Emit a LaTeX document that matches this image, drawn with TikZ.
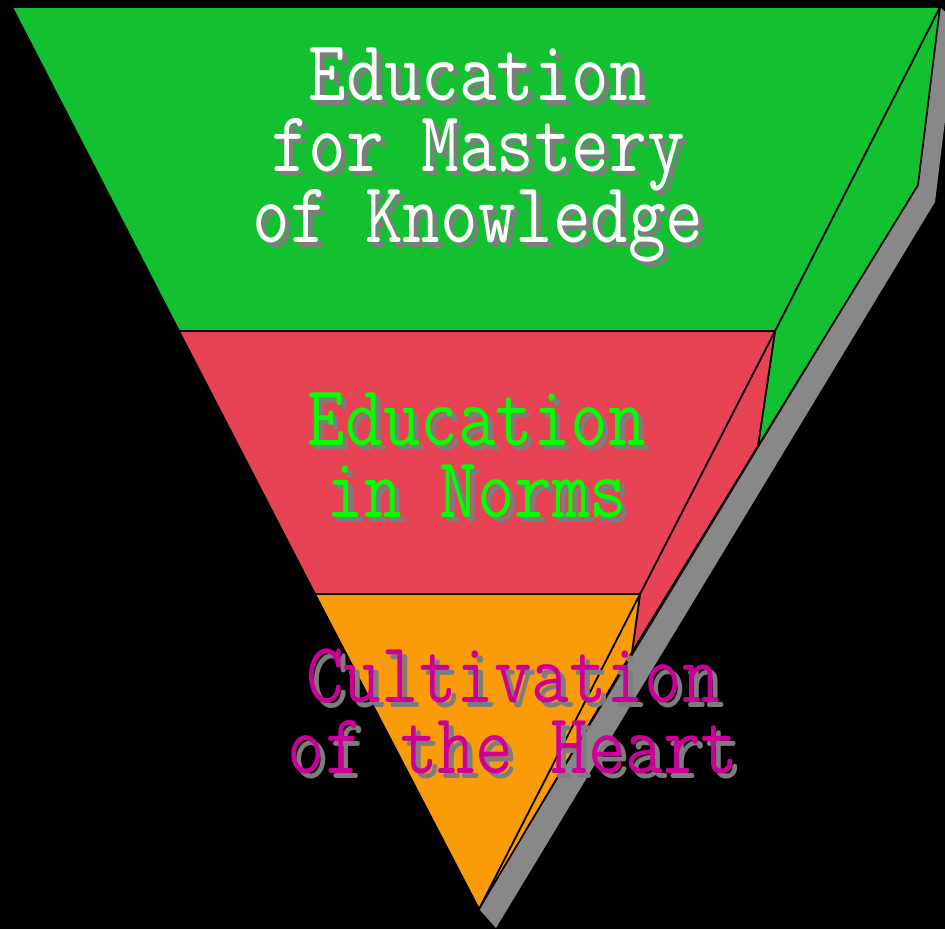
\documentclass[tikz,border=0pt]{standalone}
\usepackage{fontspec}
\definecolor{layergreen}{RGB}{18,192,48}
\definecolor{layerred}{RGB}{232,67,85}
\definecolor{layerorange}{RGB}{250,155,10}
\definecolor{edgeshade}{RGB}{136,136,136}
\definecolor{textshade}{RGB}{125,125,125}
\definecolor{normgreen}{RGB}{0,255,0}
\definecolor{heartpink}{RGB}{204,0,153}
\tikzset{
	face/.style={draw=black,line width=1.7pt,line join=round},
	words/.style={font=\fontsize{73}{73}\selectfont\ttfamily,yscale=1.18,anchor=base,inner sep=0pt},
}
\begin{document}
\begin{tikzpicture}[x=1pt,y=-1pt]
	\fill[black] (0,0) rectangle (945,929);
	\useasboundingbox (0,0) rectangle (945,929);
	\clip (0,0) rectangle (945,929);

	% corners of the front face and the side face
	\coordinate (top-left) at (12,7);
	\coordinate (top-right) at (940,7);
	\coordinate (tip) at (479,909);
	\coordinate (gr-left) at (179,331);
	\coordinate (gr-right) at (775,331);
	\coordinate (ro-left) at (315,594);
	\coordinate (ro-right) at (640,594);
	\coordinate (back-bend) at (918,185);
	\coordinate (back-gr) at (758,446);
	\coordinate (back-ro) at (632,652);

	% shadow behind the side
	\fill[edgeshade] (top-right) -- (957,23) -- (935,202) -- (496,928) -- (tip) -- (back-bend) -- cycle;

	% side face
	\draw[face,fill=layergreen] (top-right) -- (back-bend) -- (back-gr) -- (gr-right) -- cycle;
	\draw[face,fill=layerred] (gr-right) -- (back-gr) -- (back-ro) -- (ro-right) -- cycle;
	\draw[face,fill=layerorange] (ro-right) -- (back-ro) -- (tip) -- cycle;

	% front face
	\draw[face,fill=layergreen] (top-left) -- (top-right) -- (gr-right) -- (gr-left) -- cycle;
	\draw[face,fill=layerred] (gr-left) -- (gr-right) -- (ro-right) -- (ro-left) -- cycle;
	\draw[face,fill=layerorange] (ro-left) -- (ro-right) -- (tip) -- cycle;

	% labels, each with a grey shadow
	\foreach \txt/\yy [count=\i] in {Education/100,for Mastery/171,of Knowledge/242}{
		\node[words,text=textshade] at (483,\yy+5) {\txt};
		\node[words,text=white] (mastery-\i) at (478,\yy) {\txt};
	}
	\foreach \txt/\yy [count=\i] in {Education/445,in Norms/517}{
		\node[words,text=textshade] at (482,\yy+5) {\txt};
		\node[words,text=normgreen] (norms-\i) at (477,\yy) {\txt};
	}
	\foreach \txt/\yy [count=\i] in {Cultivation/702,of the Heart/773}{
		\node[words,text=textshade] at (518,\yy+5) {\txt};
		\node[words,text=heartpink] (heart-\i) at (513,\yy) {\txt};
	}
\end{tikzpicture}
\end{document}
